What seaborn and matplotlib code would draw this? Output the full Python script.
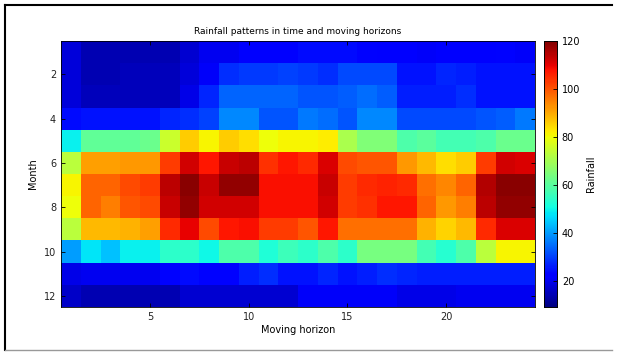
import numpy as np
import pandas as pd
import seaborn as sns
import matplotlib.pyplot as plt
from matplotlib.lines import Line2D

# rainfall per month (rows) and moving horizon (columns 1..24)
months = list(range(1, 13))
horizons = list(range(1, 25))
m01 = [18, 14, 14, 14, 14, 14, 17, 20, 20, 22, 22, 22, 24, 24, 24, 23, 22, 22, 21, 22, 22, 22, 23, 21]
m02 = [18, 14, 14, 15, 15, 15, 18, 21, 28, 29, 29, 30, 29, 28, 31, 31, 31, 25, 25, 27, 26, 25, 25, 25]
m03 = [18, 15, 15, 15, 15, 15, 19, 27, 34, 34, 34, 34, 32, 32, 33, 35, 33, 26, 26, 26, 28, 25, 25, 25]
m04 = [24, 25, 25, 25, 25, 27, 28, 30, 38, 38, 32, 32, 36, 35, 32, 38, 38, 31, 31, 31, 31, 32, 33, 36]
m05 = [49, 61, 61, 61, 62, 75, 86, 81, 86, 84, 80, 81, 81, 82, 71, 65, 65, 58, 60, 57, 57, 58, 62, 62]
m06 = [73, 91, 91, 92, 92, 103, 112, 107, 113, 114, 104, 107, 105, 111, 101, 100, 100, 92, 88, 84, 86, 103, 112, 111]
m07 = [81, 98, 98, 101, 103, 114, 119, 113, 118, 118, 108, 108, 108, 113, 103, 105, 106, 105, 97, 94, 98, 115, 119, 119]
m08 = [80, 98, 95, 100, 101, 113, 118, 112, 112, 112, 108, 108, 108, 112, 103, 104, 107, 107, 98, 92, 95, 114, 118, 118]
m09 = [73, 88, 88, 89, 91, 105, 110, 101, 107, 108, 103, 103, 100, 107, 97, 97, 97, 97, 89, 85, 88, 105, 111, 111]
m10 = [40, 48, 44, 49, 49, 54, 54, 50, 58, 58, 52, 56, 54, 58, 54, 64, 64, 64, 57, 53, 58, 73, 81, 81]
m11 = [19, 20, 20, 20, 20, 23, 24, 23, 23, 26, 28, 25, 25, 27, 25, 26, 28, 27, 26, 26, 26, 26, 26, 26]
m12 = [16, 14, 14, 14, 14, 14, 17, 17, 17, 17, 17, 17, 21, 21, 21, 21, 21, 19, 19, 19, 20, 20, 20, 20]

rain = pd.DataFrame([m01, m02, m03, m04, m05, m06, m07, m08, m09, m10, m11, m12],
                    index=months, columns=horizons)

fig = plt.figure(figsize=(6.18, 3.52), dpi=100)
ax = fig.add_axes([61 / 618, 1 - 307 / 352, 474 / 618, 266 / 352])
cax = fig.add_axes([544 / 618, 1 - 307 / 352, 13 / 618, 266 / 352])

sns.heatmap(rain, ax=ax, cbar_ax=cax, cmap="jet", vmin=9, vmax=120,
            xticklabels=False, yticklabels=False)

ax.set_xticks([h - 0.5 for h in [5, 10, 15, 20]])
ax.set_xticklabels([5, 10, 15, 20], fontsize=7, color="#222222")
ax.set_yticks([m - 0.5 for m in [2, 4, 6, 8, 10, 12]])
ax.set_yticklabels([2, 4, 6, 8, 10, 12], fontsize=7, color="#222222", rotation=0)
ax.tick_params(direction="in", length=3, top=True, right=True, width=0.6)
ax.set_xlabel("Moving horizon", fontsize=7, labelpad=2)
ax.set_ylabel("Month", fontsize=7, labelpad=4)
ax.set_title("Rainfall patterns in time and moving horizons", fontsize=6.5, pad=5)
for s in ax.spines.values():
    s.set_visible(True)
    s.set_linewidth(0.6)

cax.tick_params(labelsize=7, direction="in", length=3, width=0.6)
cax.set_yticks([20, 40, 60, 80, 100, 120])
cax.set_ylabel("Rainfall", fontsize=7, labelpad=4)
for s in cax.spines.values():
    s.set_visible(True)
    s.set_linewidth(0.6)

# frame of the screenshot
W, H = 618, 352
fig.add_artist(Line2D([5 / W, 5 / W], [1 - 5 / H, 1 - 350 / H], color="black", lw=1.5))
fig.add_artist(Line2D([5 / W, 612 / W], [1 - 5 / H, 1 - 5 / H], color="black", lw=1.5))
fig.add_artist(Line2D([5 / W, 612 / W], [1 - 350 / H, 1 - 350 / H], color="#999999", lw=1))

fig.savefig("out.png", dpi=100)
